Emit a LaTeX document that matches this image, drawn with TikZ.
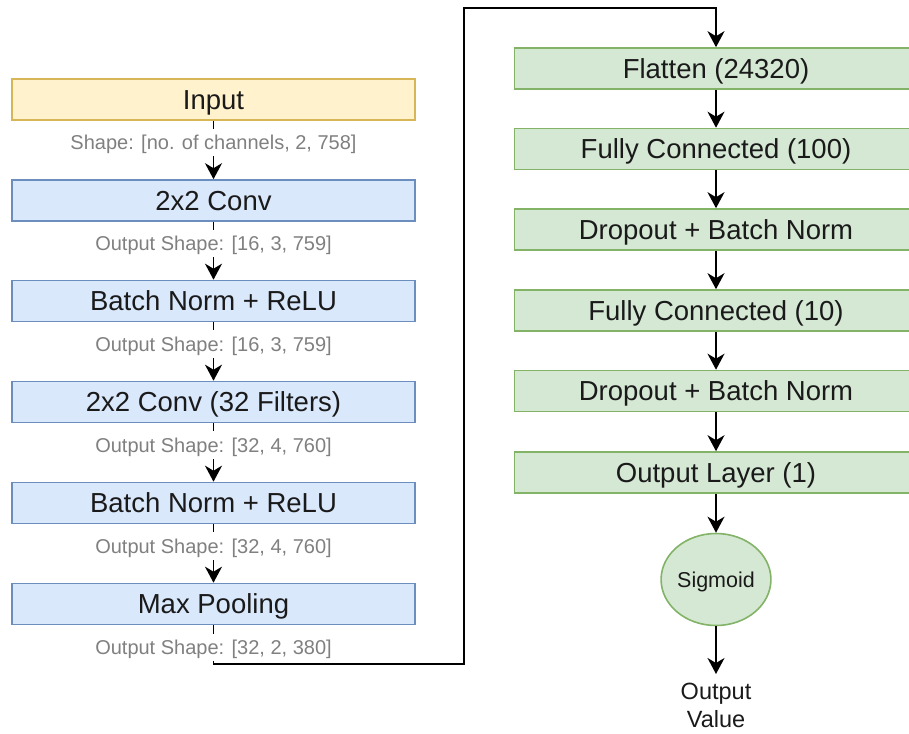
\documentclass[tikz,border=0pt]{standalone}
\usepackage{fontspec}
\setmainfont{Liberation Sans}
\usetikzlibrary{arrows.meta,shapes.geometric}
\definecolor{inFill}{HTML}{FFF2CC}
\definecolor{inDraw}{HTML}{D6B656}
\definecolor{bluFill}{HTML}{DAE8FC}
\definecolor{bluDraw}{HTML}{6C8EBF}
\definecolor{grnFill}{HTML}{D5E8D4}
\definecolor{grnDraw}{HTML}{82B366}
\definecolor{capGray}{HTML}{808080}
\definecolor{txtDark}{HTML}{1A1A1A}
\newcommand\mainsz{\fontsize{27.5}{33}\selectfont}
\newcommand\capsz{\fontsize{20}{24}\selectfont}
\newcommand\sigsz{\fontsize{21.5}{26}\selectfont}
\newcommand\outsz{\fontsize{23.5}{28}\selectfont}
\begin{document}
\begin{tikzpicture}[x=1pt,y=-1pt,
  box/.style={draw, line width=1.6pt, minimum width=403pt, minimum height=41pt,
    inner sep=0pt, font=\mainsz, text=txtDark, text height=19.8pt, text depth=0pt},
  yel/.style={box, fill=inFill, draw=inDraw},
  blu/.style={box, fill=bluFill, draw=bluDraw},
  grn/.style={box, fill=grnFill, draw=grnDraw},
  sigbox/.style={ellipse, draw=grnDraw, fill=grnFill, line width=1.6pt,
    minimum width=102pt, minimum height=92pt, inner sep=0pt, font=\sigsz, text=txtDark,
    text height=15.5pt, text depth=0pt},
  capnode/.style={fill=white, text=capGray, font=\capsz, inner xsep=2pt, inner ysep=6.5pt,
    text height=14.4pt, text depth=0pt},
  arr/.style={draw=black, line width=1.8pt,
    -{Stealth[length=16pt, width=17pt, inset=5pt]}}
]
\useasboundingbox (0,0) rectangle (909,733);

% left column
\node[yel] (inp) at (213.5,99.5) {Input};
\node[blu] (cv1) at (213.5,200.5) {2x2 Conv};
\node[blu] (bn1) at (213.5,301) {Batch Norm + ReLU};
\node[blu] (cv2) at (213.5,402) {2x2 Conv (32 Filters)};
\node[blu] (bn2) at (213.5,503) {Batch Norm + ReLU};
\node[blu] (mpl) at (213.5,604) {Max Pooling};

% right column
\node[grn] (fl) at (716,68.5) {Flatten (24320)};
\node[grn] (fc1) at (716,149) {Fully Connected (100)};
\node[grn] (dp1) at (716,229.5) {Dropout + Batch Norm};
\node[grn] (fc2) at (716,310.5) {Fully Connected (10)};
\node[grn] (dp2) at (716,391) {Dropout + Batch Norm};
\node[grn] (ol) at (716,472.5) {Output Layer (1)};
\node[sigbox] (sig) at (716,579.5) {Sigmoid};
\node[font=\outsz, text=txtDark, align=center, anchor=north, inner sep=0pt]
  (outv) at (716,683) {Output\\Value};

\coordinate (k1) at (464,664);
\coordinate (k2) at (464,8);

% left connectors
\draw[arr] (inp) -- node[capnode,pos=0.37]{Shape: [no. of channels, 2, 758]} (cv1);
\draw[arr] (cv1) -- node[capnode,pos=0.37]{Output Shape: [16, 3, 759]} (bn1);
\draw[arr] (bn1) -- node[capnode,pos=0.37]{Output Shape: [16, 3, 759]} (cv2);
\draw[arr] (cv2) -- node[capnode,pos=0.37]{Output Shape: [32, 4, 760]} (bn2);
\draw[arr] (bn2) -- node[capnode,pos=0.37]{Output Shape: [32, 4, 760]} (mpl);
\draw[arr] (mpl.south) |- node[capnode,pos=0.29]{Output Shape: [32, 2, 380]} (k1)
  -- (k2) -| (fl.north);

% right connectors
\draw[arr] (fl) -- (fc1);
\draw[arr] (fc1) -- (dp1);
\draw[arr] (dp1) -- (fc2);
\draw[arr] (fc2) -- (dp2);
\draw[arr] (dp2) -- (ol);
\draw[arr] (ol) -- (sig);
\draw[arr] (sig) -- ([yshift=9pt]outv.north);
\end{tikzpicture}
\end{document}
